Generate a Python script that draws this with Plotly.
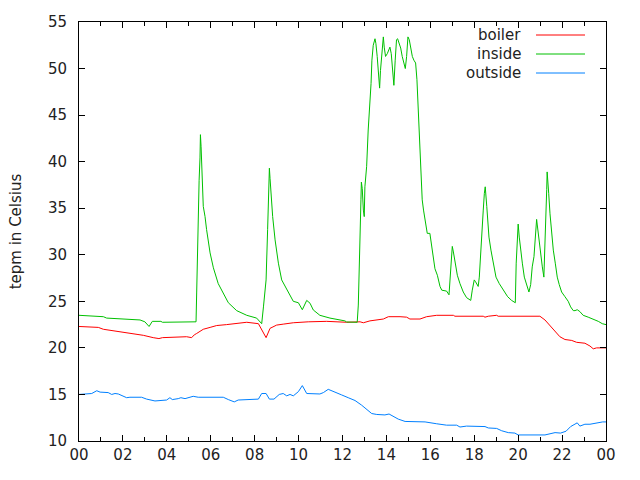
import plotly.graph_objects as go

# ---- data (hours of day, degrees Celsius) ----
inside_t = [0.0, 0.58, 1.11, 1.26, 1.87, 2.78, 3.0, 3.19, 3.34, 3.73, 3.8, 5.31, 5.33, 5.36, 5.39, 5.43, 5.47, 5.51, 5.53, 5.56, 5.60, 5.66, 5.74, 5.81, 5.97, 6.12, 6.34, 6.57, 6.8, 7.18, 7.64, 8.09, 8.32, 8.4, 8.52, 8.59, 8.65, 8.67, 8.7, 8.73, 8.82, 8.93, 9.08, 9.23, 9.53, 9.76, 9.99, 10.17, 10.37, 10.52, 10.67, 10.97, 11.43, 12.11, 12.19, 12.67, 12.72, 12.75, 12.8, 12.84, 12.86, 12.9, 12.95, 12.99, 13.02, 13.1, 13.17, 13.25, 13.3, 13.34, 13.4, 13.48, 13.52, 13.58, 13.66, 13.69, 13.73, 13.81, 13.86, 13.9, 13.96, 14.04, 14.12, 14.16, 14.22, 14.28, 14.34, 14.4, 14.46, 14.51, 14.57, 14.65, 14.72, 14.8, 14.86, 14.92, 14.98, 15.04, 15.1, 15.18, 15.25, 15.33, 15.39, 15.45, 15.5, 15.54, 15.59, 15.63, 15.69, 15.76, 15.81, 15.86, 15.98, 16.06, 16.13, 16.21, 16.32, 16.44, 16.52, 16.74, 16.85, 16.93, 16.97, 17.0, 17.05, 17.12, 17.23, 17.35, 17.5, 17.65, 17.84, 17.91, 18.0, 18.06, 18.11, 18.18, 18.23, 18.29, 18.35, 18.41, 18.46, 18.5, 18.57, 18.61, 18.67, 18.76, 18.87, 18.99, 19.14, 19.32, 19.52, 19.7, 19.87, 19.91, 19.97, 20.0, 20.05, 20.11, 20.19, 20.28, 20.38, 20.49, 20.57, 20.64, 20.72, 20.8, 20.84, 20.87, 20.95, 21.02, 21.1, 21.17, 21.22, 21.27, 21.3, 21.32, 21.36, 21.39, 21.45, 21.52, 21.6, 21.69, 21.78, 21.87, 21.98, 22.13, 22.28, 22.39, 22.51, 22.59, 22.69, 22.81, 22.96, 23.19, 23.42, 23.65, 23.83, 24.0]
inside_v = [23.5, 23.4, 23.35, 23.2, 23.1, 23.0, 22.8, 22.3, 22.85, 22.85, 22.75, 22.75, 22.8, 26.0, 30.3, 35.2, 38.0, 40.4, 42.9, 41.6, 39.3, 35.2, 34.1, 32.7, 30.2, 28.6, 26.9, 25.9, 24.85, 24.0, 23.5, 23.2, 22.6, 24.4, 27.3, 32.7, 37.0, 39.3, 38.2, 37.0, 34.1, 31.6, 29.1, 27.3, 25.9, 25.0, 24.85, 24.1, 25.1, 24.8, 24.07, 23.5, 23.2, 22.9, 22.78, 22.75, 24.6, 28.4, 32.1, 35.9, 37.8, 37.1, 34.8, 34.1, 37.3, 39.5, 43.4, 45.9, 48.4, 50.9, 52.5, 53.2, 52.7, 51.3, 48.8, 47.9, 49.8, 52.7, 53.4, 52.3, 51.3, 51.6, 52.0, 52.3, 51.6, 49.5, 48.2, 50.9, 53.1, 53.2, 52.7, 52.2, 51.3, 50.7, 50.0, 51.3, 53.4, 53.1, 52.3, 51.3, 50.9, 50.6, 48.8, 45.9, 43.0, 40.7, 37.7, 35.9, 34.8, 33.7, 33.0, 32.3, 32.3, 30.9, 29.4, 28.5, 27.8, 26.6, 26.2, 26.1, 25.7, 28.2, 30.2, 30.9, 30.3, 29.1, 27.8, 26.9, 26.0, 25.4, 25.1, 26.2, 27.3, 27.1, 26.8, 26.6, 27.6, 30.5, 33.4, 34.8, 36.6, 37.3, 35.2, 33.7, 31.9, 30.5, 28.9, 27.6, 26.9, 26.2, 25.5, 25.1, 24.85, 29.1, 31.6, 33.3, 31.9, 30.5, 29.1, 27.6, 26.8, 26.0, 26.8, 28.7, 29.8, 33.0, 33.8, 33.2, 31.4, 30.2, 28.7, 27.6, 30.5, 33.4, 37.0, 38.9, 38.0, 36.6, 34.4, 32.3, 30.5, 29.1, 27.6, 26.8, 26.0, 25.5, 25.0, 24.4, 24.0, 24.0, 24.1, 23.9, 23.5, 23.3, 23.1, 22.85, 22.6, 22.5]

boiler_t = [0.0, 0.88, 1.11, 1.41, 2.09, 2.63, 2.93, 3.38, 3.64, 3.8, 4.9, 5.13, 5.25, 5.36, 5.66, 5.97, 6.27, 6.72, 7.03, 7.64, 8.17, 8.32, 8.52, 8.7, 9.0, 9.3, 9.76, 10.44, 10.75, 11.28, 12.19, 12.8, 12.95, 13.25, 13.86, 14.09, 14.62, 14.92, 15.07, 15.53, 15.83, 16.29, 17.05, 17.12, 18.41, 18.49, 18.64, 19.02, 19.09, 20.99, 21.22, 21.45, 21.68, 21.9, 22.13, 22.44, 22.66, 23.04, 23.27, 23.42, 23.57, 24.0]
boiler_v = [22.3, 22.2, 22.0, 21.9, 21.7, 21.5, 21.35, 21.1, 21.0, 21.1, 21.2, 21.1, 21.4, 21.55, 22.0, 22.2, 22.4, 22.5, 22.6, 22.75, 22.6, 21.9, 21.1, 22.1, 22.45, 22.55, 22.7, 22.8, 22.8, 22.85, 22.75, 22.8, 22.7, 22.9, 23.1, 23.35, 23.35, 23.3, 23.1, 23.1, 23.35, 23.5, 23.5, 23.4, 23.4, 23.3, 23.4, 23.5, 23.4, 23.4, 23.0, 22.35, 21.75, 21.2, 20.9, 20.8, 20.6, 20.5, 20.2, 19.9, 20.0, 20.0]

outside_t = [0.0, 0.27, 0.42, 0.58, 0.81, 0.96, 1.33, 1.49, 1.64, 1.79, 2.17, 2.32, 2.85, 3.08, 3.46, 3.99, 4.14, 4.25, 4.52, 4.64, 4.83, 5.05, 5.2, 5.43, 6.57, 6.8, 7.07, 7.25, 8.01, 8.17, 8.32, 8.52, 8.67, 8.88, 9.12, 9.3, 9.46, 9.61, 9.76, 9.99, 10.17, 10.37, 10.97, 11.13, 11.35, 11.66, 11.96, 12.26, 12.57, 12.87, 13.1, 13.33, 13.56, 13.93, 14.12, 14.54, 14.85, 15.07, 15.76, 16.29, 16.74, 17.2, 17.35, 17.65, 18.49, 18.64, 19.02, 19.25, 19.55, 19.85, 20.0, 21.22, 21.45, 21.68, 21.93, 22.18, 22.39, 22.69, 22.81, 23.04, 23.27, 23.57, 23.85, 24.0]
outside_v = [15.0, 15.05, 15.0, 15.1, 15.4, 15.25, 15.2, 15.0, 15.1, 15.05, 14.65, 14.7, 14.7, 14.5, 14.3, 14.4, 14.65, 14.45, 14.55, 14.65, 14.55, 14.7, 14.8, 14.7, 14.7, 14.45, 14.2, 14.4, 14.5, 14.5, 15.1, 15.1, 14.5, 14.5, 15.0, 15.1, 14.85, 15.0, 14.85, 15.3, 15.95, 15.1, 15.05, 15.2, 15.55, 15.2, 14.95, 14.65, 14.35, 13.85, 13.4, 12.95, 12.85, 12.8, 12.9, 12.35, 12.1, 12.1, 12.05, 11.85, 11.7, 11.7, 11.5, 11.6, 11.55, 11.4, 11.35, 11.1, 10.9, 10.85, 10.65, 10.65, 10.8, 10.9, 10.85, 11.05, 11.55, 11.95, 11.6, 11.8, 11.8, 11.95, 12.05, 12.05]

x_tickvals = [0, 2, 4, 6, 8, 10, 12, 14, 16, 18, 20, 22, 24]
x_ticktext = ["00", "02", "04", "06", "08", "10", "12", "14", "16", "18", "20", "22", "00"]
y_tickvals = [10, 15, 20, 25, 30, 35, 40, 45, 50, 55]

series_names = ["boiler", "inside", "outside"]
series_colors = ["#ff0000", "#00c000", "#0080ff"]
series_t = [boiler_t, inside_t, outside_t]
series_v = [boiler_v, inside_v, outside_v]

FONT = "DejaVu Sans"
TXT = "#222222"

fig = go.Figure()
for name, col, t, v in zip(series_names, series_colors, series_t, series_v):
    fig.add_trace(go.Scatter(x=t, y=v, mode="lines", name=name,
                             line=dict(color=col, width=1), showlegend=False))

# gnuplot-style key: text right-aligned, sample line to the right
W, H = 640, 480
L, R, T, B = 79, 34, 22, 39
pw, ph = W - L - R, H - T - B
key_rows_px = [35, 54, 73]
text_right_px = 523
sample_px = (536, 585)
for name, col, ypx in zip(series_names, series_colors, key_rows_px):
    yp = (H - B - ypx) / ph
    fig.add_annotation(x=(text_right_px - L) / pw, y=yp, xref="paper", yref="paper",
                       text=name, showarrow=False, xanchor="right", yanchor="middle",
                       font=dict(family=FONT, size=15, color=TXT))
    fig.add_shape(type="line", xref="paper", yref="paper",
                  x0=(sample_px[0] - L) / pw, x1=(sample_px[1] - L) / pw, y0=yp, y1=yp,
                  line=dict(color=col, width=1))

fig.update_layout(
    width=W, height=H,
    margin=dict(l=L, r=R, t=T, b=B),
    paper_bgcolor="white", plot_bgcolor="white",
    font=dict(family=FONT, size=15, color=TXT),
    xaxis=dict(range=[0, 24], tickvals=x_tickvals, ticktext=x_ticktext,
               showgrid=False, zeroline=False, showline=True, linecolor="black", linewidth=1,
               mirror="ticks", ticks="inside", ticklen=6, tickcolor="black",
               minor=dict(dtick=1, ticks="inside", ticklen=4, tickcolor="black", showgrid=False),
               tickfont=dict(family=FONT, size=15, color=TXT)),
    yaxis=dict(range=[10, 55], tickvals=y_tickvals,
               showgrid=False, zeroline=False, showline=True, linecolor="black", linewidth=1,
               mirror="ticks", ticks="inside", ticklen=6, tickcolor="black",
               ticklabelstandoff=8,
               title=dict(text="tepm in Celsius", standoff=22, font=dict(family=FONT, size=15, color=TXT)),
               tickfont=dict(family=FONT, size=15, color=TXT)),
)

fig.write_html("out.html")
